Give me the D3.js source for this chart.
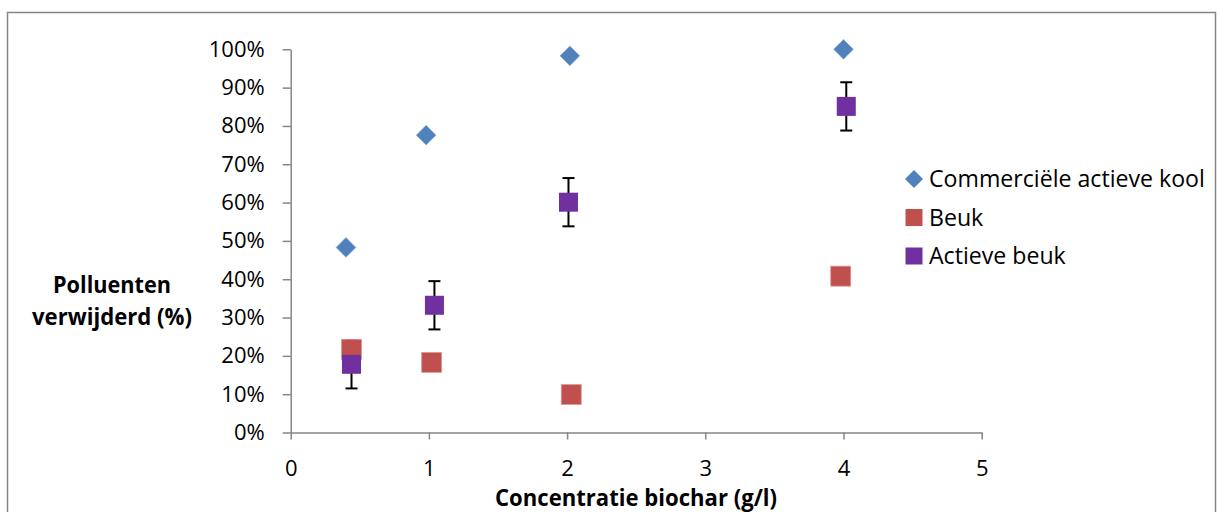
<!DOCTYPE html>
<html>
<head>
<meta charset="utf-8">
<script src="https://cdn.jsdelivr.net/npm/d3@7/dist/d3.min.js"></script>
<style>
  html, body { margin: 0; padding: 0; background: #fff; }
  svg { display: block; }
  text { font-family: "Open Sans", "DejaVu Sans", sans-serif; fill: #000; }
</style>
</head>
<body>
<script>
// Removal of pollutants for three adsorbents at increasing biochar doses
const seriesNames = ["Commerciële actieve kool", "Beuk", "Actieve beuk"];

const koolX = [0.40, 0.98, 2.02, 4.00];
const koolY = [0.483, 0.776, 0.983, 1.00];

const beukX = [0.44, 1.02, 2.03, 3.98];
const beukY = [0.217, 0.183, 0.099, 0.408];

const actiefX = [0.44, 1.04, 2.01, 4.02];
const actiefY = [0.178, 0.332, 0.601, 0.851];
const actiefErr = [0.063, 0.063, 0.063, 0.063];

const xTicks = [0, 1, 2, 3, 4, 5];
const yTicks = [0, 0.1, 0.2, 0.3, 0.4, 0.5, 0.6, 0.7, 0.8, 0.9, 1.0];

const xTitle = "Concentratie biochar (g/l)";
const yTitleLines = ["Polluenten", "verwijderd (%)"];

const colors = ["#4F81BD", "#C0504D", "#7030A0"];

const W = 1217, H = 512;
const svg = d3.select("body").append("svg").attr("width", W).attr("height", H);

svg.append("rect").attr("width", W).attr("height", H).attr("fill", "#fff");

// chart area frame
svg.append("rect")
  .attr("x", 7.5).attr("y", 12.5)
  .attr("width", 1208).attr("height", 520)
  .attr("fill", "none").attr("stroke", "#868686").attr("stroke-width", 1.5);

const x = d3.scaleLinear().domain([0, 5]).range([290.7, 981.7]);
const y = d3.scaleLinear().domain([0, 1]).range([432.5, 49.3]);

const axisColor = "#868686";

// y axis
const gy = svg.append("g").attr("transform", `translate(${x(0)},0)`)
  .call(d3.axisLeft(y).tickValues(yTicks).tickFormat(d3.format(".0%"))
    .tickSize(8).tickSizeOuter(0).tickPadding(18));
// x axis
const gx = svg.append("g").attr("transform", `translate(0,${y(0)})`)
  .call(d3.axisBottom(x).tickValues(xTicks).tickFormat(d3.format("d"))
    .tickSize(7).tickSizeOuter(0).tickPadding(21));

[gx, gy].forEach(g => {
  g.select(".domain").attr("stroke", axisColor).attr("stroke-width", 1.5);
  g.selectAll(".tick line").attr("stroke", axisColor).attr("stroke-width", 1.5);
  g.selectAll(".tick text").attr("font-size", 22).attr("fill", "#000")
    .attr("font-family", "'Open Sans', sans-serif");
});

// bold titles: a slightly larger size, condensed to the given width
function boldTitle(tx, ty, str, size, width) {
  return svg.append("text").attr("x", tx).attr("y", ty)
    .attr("text-anchor", "middle").attr("font-weight", "bold")
    .attr("font-size", size)
    .attr("textLength", width).attr("lengthAdjust", "spacingAndGlyphs")
    .text(str);
}

boldTitle(636, 506, xTitle, 23.5, 282);

const yWidths = [118, 160];
const yBase = [293, 325];
yTitleLines.forEach((t, i) => boldTitle(112, yBase[i], t, 23.5, yWidths[i]));

// error bars (drawn beneath the markers)
const ebars = svg.append("g");
actiefX.forEach((xv, i) => {
  const lo = y(actiefY[i] - actiefErr[i]), hi = y(actiefY[i] + actiefErr[i]);
  const cx = x(xv);
  ebars.append("line").attr("x1", cx).attr("x2", cx).attr("y1", lo).attr("y2", hi)
    .attr("stroke", "#000").attr("stroke-width", 2);
  [lo, hi].forEach(v => ebars.append("line")
    .attr("x1", cx - 6).attr("x2", cx + 6).attr("y1", v).attr("y2", v)
    .attr("stroke", "#000").attr("stroke-width", 2));
});

// markers
const diamond = d3.symbol().type(d3.symbolSquare).size(196);
svg.append("g").selectAll("path").data(d3.zip(koolX, koolY)).join("path")
  .attr("d", diamond)
  .attr("transform", d => `translate(${x(d[0])},${y(d[1])}) rotate(45)`)
  .attr("fill", colors[0]).attr("stroke", "#8fb0d8").attr("stroke-width", 0.6);

svg.append("g").selectAll("rect").data(d3.zip(beukX, beukY)).join("rect")
  .attr("x", d => x(d[0]) - 10).attr("y", d => y(d[1]) - 10)
  .attr("width", 20).attr("height", 20)
  .attr("fill", colors[1]).attr("stroke", "#dc9a98").attr("stroke-width", 0.8);

svg.append("g").selectAll("rect").data(d3.zip(actiefX, actiefY)).join("rect")
  .attr("x", d => x(d[0]) - 9.5).attr("y", d => y(d[1]) - 9.5)
  .attr("width", 19).attr("height", 19)
  .attr("fill", colors[2]);

// legend
const legY = [179, 217.5, 256];
const leg = svg.append("g");
const legTexts = [];
seriesNames.forEach((name, i) => {
  if (i === 0) {
    leg.append("path").attr("d", d3.symbol().type(d3.symbolSquare).size(162)())
      .attr("transform", `translate(914,${legY[i]}) rotate(45)`)
      .attr("fill", colors[0]);
  } else {
    leg.append("rect").attr("x", 914 - 8.5).attr("y", legY[i] - 8.5)
      .attr("width", 17).attr("height", 17).attr("fill", colors[i]);
  }
  legTexts.push(leg.append("text").attr("x", 929).attr("y", legY[i] + 8)
    .attr("font-size", 22).text(name));
});
// legend type sized so the longest entry spans its full width
const longest = legTexts[0].node().getComputedTextLength();
const legSize = 22 * 276 / longest;
legTexts.forEach(t => t.attr("font-size", legSize));
</script>
</body>
</html>
